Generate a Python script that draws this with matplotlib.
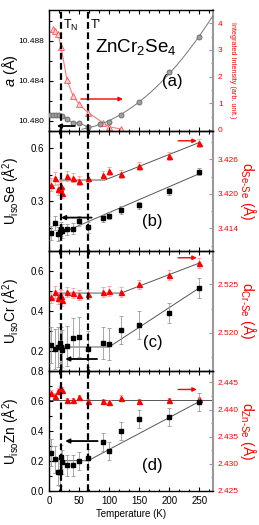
import numpy as np
import matplotlib
matplotlib.use("Agg")
import matplotlib.pyplot as plt
from matplotlib.ticker import MultipleLocator, AutoMinorLocator

plt.rcParams['font.family'] = ['Liberation Sans', 'DejaVu Sans']
plt.rcParams['mathtext.fontset'] = 'custom'
plt.rcParams['mathtext.rm'] = 'Liberation Sans'
plt.rcParams['mathtext.it'] = 'Liberation Sans:italic'

RED = '#ff0000'

# ---- data ----
# (a) lattice parameter and magnetic intensity
T_a = [2, 7, 12, 17, 22, 30, 40, 50, 65, 85, 100, 120, 150, 200, 250]
a_lat = [10.4806, 10.4806, 10.4806, 10.4806, 10.4805, 10.4802, 10.4798, 10.4798,
         10.4794, 10.4797, 10.4799, 10.4806, 10.4819, 10.4849, 10.4884]
T_int = [7, 10, 15, 20, 30, 40, 50, 65, 90, 100, 120]
intensity = [3.78, 3.72, 3.60, 3.12, 1.87, 1.28, 0.97, 0.65, 0.27, 0.12, 0.03]

# (b)-(d) common temperatures
T = [3, 10, 15, 18, 20, 22, 30, 40, 50, 65, 90, 100, 120, 150, 200, 250]

U_Se = [0.121, 0.177, 0.113, 0.123, 0.142, 0.130, 0.140, 0.145, 0.187, 0.151,
        0.202, 0.217, 0.250, 0.277, 0.357, 0.466]
U_Se_err = [0.04, 0.04, 0.04, 0.04, 0.04, 0.04, 0.03, 0.03, 0.03, 0.03,
            0.02, 0.02, 0.02, 0.02, 0.02, 0.02]
d_SeSe = [3.4216, 3.4227, 3.4208, 3.4211, 3.4213, 3.4202, 3.4231, 3.4228, 3.4223,
          3.4228, 3.4233, 3.4239, 3.4234, 3.4249, 3.4266, 3.4288]
d_SeSe_err = [0.0011, 0.0011, 0.0010, 0.0010, 0.0010, 0.0010, 0.0008, 0.0008, 0.0008,
              0.0008, 0.0007, 0.0007, 0.0007, 0.0007, 0.0007, 0.0007]

U_Cr = [0.230, 0.208, 0.220, 0.238, 0.220, 0.205, 0.227, 0.267, 0.272, 0.210,
        0.242, 0.237, 0.305, 0.330, 0.388, 0.517]
U_Cr_err = [0.09, 0.10, 0.10, 0.10, 0.10, 0.10, 0.10, 0.10, 0.10, 0.09,
            0.08, 0.08, 0.07, 0.07, 0.05, 0.05]
d_CrSe = [2.5237, 2.5242, 2.5236, 2.5239, 2.5238, 2.5234, 2.5242, 2.5241, 2.5239,
          2.5240, 2.5242, 2.5243, 2.5242, 2.5250, 2.5260, 2.5272]
d_CrSe_err = [0.0006, 0.0006, 0.0006, 0.0006, 0.0006, 0.0006, 0.0005, 0.0005, 0.0005,
              0.0005, 0.0005, 0.0005, 0.0005, 0.0005, 0.0005, 0.0005]

U_Zn = [0.255, 0.213, 0.129, 0.125, 0.228, 0.195, 0.173, 0.173, 0.202, 0.222,
        0.329, 0.269, 0.402, 0.478, 0.491, 0.596]
U_Zn_err = [0.09, 0.09, 0.09, 0.09, 0.08, 0.08, 0.07, 0.07, 0.06, 0.06,
            0.06, 0.06, 0.06, 0.06, 0.06, 0.06]
d_ZnSe = [2.4431, 2.4425, 2.4435, 2.4438, 2.4437, 2.4436, 2.4418, 2.4418, 2.4423,
          2.4415, 2.4415, 2.4413, 2.4422, 2.4415, 2.4418, 2.4420]
d_ZnSe_err = [0.0005, 0.0005, 0.0005, 0.0005, 0.0005, 0.0005, 0.0004, 0.0004, 0.0004,
              0.0004, 0.0004, 0.0004, 0.0004, 0.0004, 0.0004, 0.0004]

T_N, T_prime = 20, 65

# ---- figure ----
fig = plt.figure(figsize=(2.59, 5.25), dpi=100)
L, W = 49 / 259, 164 / 259
H = 120 / 525
bottoms = [(525 - 131) / 525, (525 - 251) / 525, (525 - 371) / 525, (525 - 491) / 525]

axes = []
for i, b in enumerate(bottoms):
    ax = fig.add_axes([L, b, W, H if i else 121 / 525])
    axes.append(ax)


def style_left(ax):
    ax.set_xlim(0, 273)
    ax.xaxis.set_major_locator(MultipleLocator(50))
    ax.xaxis.set_minor_locator(AutoMinorLocator(3))
    ax.tick_params(which='both', direction='in', top=True, labelsize=7, width=0.8)
    ax.tick_params(which='major', length=3)
    ax.tick_params(which='minor', length=1.8)
    ax.yaxis.set_minor_locator(AutoMinorLocator(2))
    for side in ['left', 'top', 'bottom']:
        ax.spines[side].set_linewidth(1.0)
    ax.spines['right'].set_visible(False)
    ax.axvline(T_N, color='k', lw=1.6, ls=(0, (3, 1.6)), zorder=5)
    ax.axvline(T_prime, color='k', lw=1.6, ls=(0, (3, 1.6)), zorder=5)


def style_right(ax2):
    ax2.tick_params(which='both', direction='in', colors='#999999', labelcolor=RED,
                    labelsize=6, width=0.8)
    ax2.tick_params(which='major', length=3)
    ax2.tick_params(which='minor', length=1.8)
    ax2.yaxis.set_minor_locator(AutoMinorLocator(2))
    ax2.spines['right'].set_color('#999999')
    ax2.spines['right'].set_linewidth(1.5)
    for side in ['left', 'top', 'bottom']:
        ax2.spines[side].set_visible(False)


def black_arrow(ax, x0, x1, y):
    ax.annotate('', xy=(x1, y), xytext=(x0, y),
                arrowprops=dict(arrowstyle='-|>', color='k', lw=1.3,
                                mutation_scale=6, shrinkA=0, shrinkB=0), zorder=6)


def red_arrow(ax, x0, x1, y):
    ax.annotate('', xy=(x1, y), xytext=(x0, y),
                arrowprops=dict(arrowstyle='-|>', color=RED, lw=1.0,
                                mutation_scale=6, shrinkA=0, shrinkB=0), zorder=6)


# ---- (a) ----
ax = axes[0]
style_left(ax)
Ta = np.array(T_a)
aa = np.array(a_lat)
hi = Ta >= 65
coef = np.polyfit(Ta[hi], aa[hi], 2)
tt = np.linspace(55, 273, 200)
ax.plot(tt, np.polyval(coef, tt), color='#777777', lw=0.7, zorder=2)
ax.plot(Ta[Ta <= 65], aa[Ta <= 65], color='#777777', lw=0.7, zorder=2)
ax.plot(Ta, aa, 'o', ms=3.6, mfc='#a0a0a0', mec='#666666', mew=0.6, zorder=3)
ax.set_ylim(10.479, 10.4911)
ax.yaxis.set_major_locator(MultipleLocator(0.004))
ax.yaxis.set_major_formatter(plt.FormatStrFormatter('%.3f'))
ax.tick_params(axis='y', labelsize=6)
ax.tick_params(labelbottom=False)
ax.set_ylabel('$a$ (Å)', fontsize=10.5)
ax.yaxis.set_label_coords(-0.175, 0.5)
black_arrow(ax, 43, 13, 10.4795)
ax.text(24, 10.4896, 'T$_{\\rm N}$', fontsize=9, va='center')
ax.text(69, 10.4896, "T'", fontsize=9, va='center')
ax.text(145, 10.4874, 'ZnCr$_2$Se$_4$', fontsize=13.5, ha='center', va='center')
ax.text(206, 10.4839, '(a)', fontsize=12, ha='center', va='center')

ax2 = ax.twinx()
style_right(ax2)
ax2.plot(T_int, intensity, '-^', color='#ff7777', lw=0.8, ms=3.8,
         mfc='#ffd0d0', mec='#ff5555', mew=0.6, zorder=3)
ax2.set_ylim(-0.04, 4.5)
ax2.yaxis.set_major_locator(MultipleLocator(1))
ax2.set_ylabel('Integrated Intensity (arb. unit.)', color=RED, fontsize=5.2,
               rotation=-90, va='bottom')
ax2.yaxis.set_label_coords(1.095, 0.5)
red_arrow(ax2, 53, 123, 1.16)

# ---- (b)-(d) ----
panels = [
    dict(U=U_Se, Ue=U_Se_err, d=d_SeSe, de=d_SeSe_err, ylim=(0.018, 0.697), yl2=(3.4101, 3.4309),
         ymaj=0.3, dmaj=0.006, uname='Se', dname='Se', tag='(b)', tagy=0.245,
         ufit=([20, 250], [0.118, 0.455]), dfit=([18, 93, 250], [3.4224, 3.4224, 3.4289]),
         barr=(71, 20, 0.207), rarr=(215, 246, 3.4292), dfmt='%.3f'),
    dict(U=U_Cr, Ue=U_Cr_err, d=d_CrSe, de=d_CrSe_err, ylim=(0.1, 0.7), yl2=(2.51604, 2.52845),
         ymaj=0.2, dmaj=0.005, uname='Cr', dname='Cr', tag='(c)', tagy=0.235,
         ufit=([20, 100, 250], [0.22, 0.22, 0.515]), dfit=([18, 120, 250], [2.5241, 2.5241, 2.5272]),
         barr=(80, 27, 0.16), rarr=(215, 246, 2.52775), dfmt='%.3f'),
    dict(U=U_Zn, Ue=U_Zn_err, d=d_ZnSe, de=d_ZnSe_err, ylim=(0.0, 0.8), yl2=(2.425, 2.4471),
         ymaj=0.2, dmaj=0.005, uname='Zn', dname='Zn', tag='(d)', tagy=0.21,
         ufit=([20, 65, 250], [0.202, 0.202, 0.596]), dfit=([0, 273], [2.4418, 2.4418]),
         barr=(81, 27, 0.333), rarr=(215, 246, 2.4437), dfmt='%.3f'),
]

for ax, p in zip(axes[1:], panels):
    style_left(ax)
    ax.set_ylim(*p['ylim'])
    ax.yaxis.set_major_locator(MultipleLocator(p['ymaj']))
    ax.yaxis.set_major_formatter(plt.FormatStrFormatter('%.1f'))
    ax.plot(*p['ufit'], color='#555555', lw=0.7, zorder=2)
    ax.errorbar(T, p['U'], yerr=p['Ue'], fmt='s', color='k', ms=3.3,
                ecolor='#999999', elinewidth=0.6, capsize=1.2, capthick=0.6, zorder=3)
    ax.set_ylabel('U$_{\\rm iso}$' + p['uname'] + ' (Å$^2$)', fontsize=9.8)
    ax.yaxis.set_label_coords(-0.165, 0.5)
    ax.text(172, p['ylim'][0] + p['tagy'] * (p['ylim'][1] - p['ylim'][0]), p['tag'],
            fontsize=12, ha='center', va='center')
    black_arrow(ax, *p['barr'])

    ax2 = ax.twinx()
    style_right(ax2)
    ax2.set_ylim(*p['yl2'])
    ax2.yaxis.set_major_locator(MultipleLocator(p['dmaj']))
    ax2.yaxis.set_major_formatter(plt.FormatStrFormatter(p['dfmt']))
    ax2.plot(*p['dfit'], color='#555555', lw=0.7, zorder=2)
    ax2.errorbar(T, p['d'], yerr=p['de'], fmt='^', color=RED, ms=3.6,
                 ecolor='#ff9999', elinewidth=0.6, capsize=1.2, capthick=0.6, zorder=3)
    ax2.set_ylabel('d$_{\\rm ' + p['dname'] + '\u2010Se}$ (Å)', color=RED, fontsize=10,
                   rotation=-90, va='bottom')
    ax2.yaxis.set_label_coords(1.15, 0.5)
    red_arrow(ax2, *p['rarr'])
    ax.set_zorder(ax2.get_zorder() + 1)
    ax.patch.set_visible(False)

for ax in axes[1:3]:
    ax.tick_params(labelbottom=False)
axes[3].set_xlabel('Temperature (K)', fontsize=7, labelpad=2)
axes[0].set_zorder(10)
axes[0].patch.set_visible(False)

fig.savefig('out.png', dpi=100)
